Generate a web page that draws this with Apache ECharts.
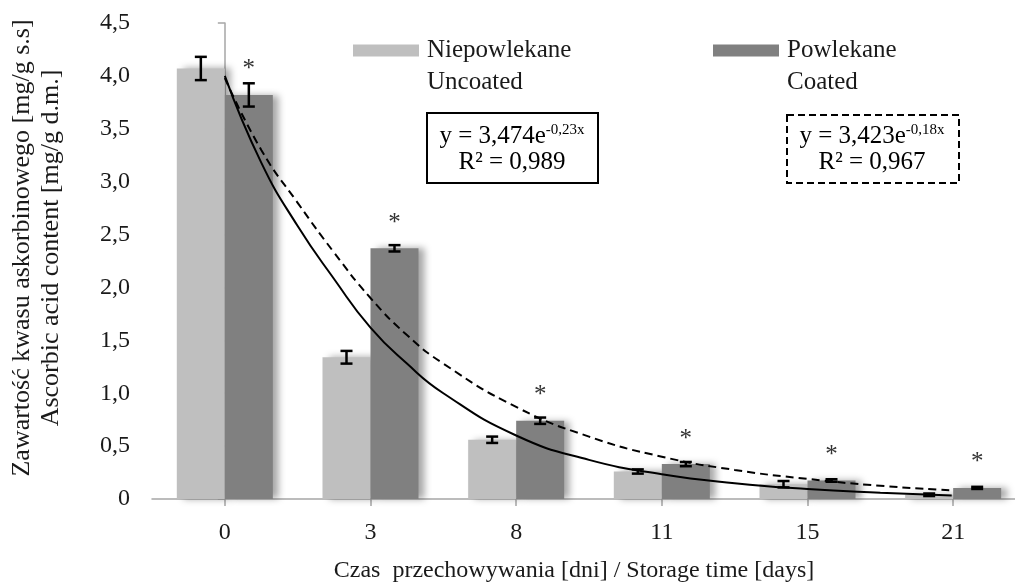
<!DOCTYPE html>
<html>
<head>
<meta charset="utf-8">
<script src="https://cdn.jsdelivr.net/npm/echarts@6/dist/echarts.min.js"></script>
<style>
html,body{margin:0;padding:0;background:#fff;overflow:hidden;}
#chart{width:1015px;height:584px;}
</style>
</head>
<body>
<div id="chart"></div>
<script>
// ---- data ----
var categories = ['0', '3', '8', '11', '15', '21'];
var uncoated = [4.07, 1.34, 0.56, 0.26, 0.14, 0.04];
var uncoatedErr = [0.11, 0.06, 0.03, 0.02, 0.03, 0.012];
var coated = [3.82, 2.37, 0.74, 0.33, 0.175, 0.105];
var coatedErr = [0.11, 0.03, 0.03, 0.02, 0.012, 0.01];
var yTicks = [0, 0.5, 1, 1.5, 2, 2.5, 3, 3.5, 4, 4.5];

// trend curves, positions in category-index units
var uncoatedTrendX = [0, 0.25, 0.5, 0.75, 1.0, 1.25, 1.5, 2.0, 2.5, 3.0, 3.5, 4.0, 4.5, 4.99];
var uncoatedTrendY = [4.00, 3.18, 2.58, 2.08, 1.62, 1.28, 1.00, 0.60, 0.37, 0.235, 0.15, 0.095, 0.06, 0.034];
var coatedTrendX = [0, 0.25, 0.5, 0.75, 1.0, 1.25, 1.5, 2.0, 2.5, 3.0, 3.5, 4.0, 4.5, 4.98];
var coatedTrendY = [3.98, 3.30, 2.80, 2.33, 1.90, 1.55, 1.28, 0.87, 0.59, 0.40, 0.275, 0.19, 0.125, 0.083];

var legendNames = ['Niepowlekane', 'Powlekane'];
var legendSub = ['Uncoated', 'Coated'];
var eq1 = ['y = 3,474e', '-0,23x', 'R² = 0,989'];
var eq2 = ['y = 3,423e', '-0,18x', 'R² = 0,967'];
var xName = 'Czas  przechowywania [dni] / Storage time [days]';
var yName = 'Zawartość kwasu askorbinowego [mg/g s.s]\nAscorbic acid content [mg/g d.m.]';

var FONT = '"Liberation Serif", "Times New Roman", serif';
var AXC = '#A6A6A6';
var TXT = '#1a1a1a';

function zip(xs, ys) { return xs.map(function (x, i) { return [x, ys[i]]; }); }
function errData(vals, errs) { return vals.map(function (v, i) { return [i, v, errs[i]]; }); }

function errRender(offset, star) {
  return function (params, api) {
    var i = api.value(0), v = api.value(1), e = api.value(2);
    var pTop = api.coord([i, v + e]);
    var pBot = api.coord([i, v - e]);
    var pBar = api.coord([i, v]);
    var x = pTop[0] + offset;
    var cap = 6;
    var st = {stroke: '#000', lineWidth: 2.5};
    var children = [
      {type: 'line', shape: {x1: x, y1: pTop[1], x2: x, y2: pBot[1]}, style: st},
      {type: 'line', shape: {x1: x - cap, y1: pTop[1], x2: x + cap, y2: pTop[1]}, style: st},
      {type: 'line', shape: {x1: x - cap, y1: pBot[1], x2: x + cap, y2: pBot[1]}, style: st}
    ];
    if (star) {
      children.push({type: 'text', style: {text: '*', x: x, y: pBar[1] - 25, align: 'center', verticalAlign: 'middle',
        fontSize: 25, fontFamily: FONT, fill: '#333'}});
    }
    return {type: 'group', children: children};
  };
}

var chart = echarts.init(document.getElementById('chart'), null, {renderer: 'canvas'});

var legendCommon = {
  top: 38, itemWidth: 66, itemHeight: 12, icon: 'rect', padding: 0,
  itemStyle: {shadowBlur: 0, shadowColor: 'transparent', shadowOffsetX: 0},
  textStyle: {fontFamily: FONT, fontSize: 25, color: TXT, padding: [0, 0, 0, 3]},
  selectedMode: false
};

var richEq = {
  n: {fontFamily: FONT, fontSize: 25, lineHeight: 26, fill: '#000'},
  s: {fontFamily: FONT, fontSize: 15, lineHeight: 26, verticalAlign: 'top', fill: '#000'}
};

var option = {
  backgroundColor: '#fff',
  animation: false,
  grid: {left: 152, top: 23, width: 874, height: 476, containLabel: false, outerBoundsMode: 'none'},
  legend: [
    Object.assign({}, legendCommon, {left: 353, data: [legendNames[0]]}),
    Object.assign({}, legendCommon, {left: 713, data: [legendNames[1]]})
  ],
  xAxis: [
    {
      type: 'category', data: categories, boundaryGap: true,
      axisLine: {show: true, lineStyle: {color: AXC, width: 1.5}},
      axisTick: {show: true, alignWithLabel: true, length: 7, lineStyle: {color: AXC, width: 1.5}},
      axisLabel: {fontFamily: FONT, fontSize: 24, color: TXT, margin: 22},
      splitLine: {show: false},
      name: xName, nameLocation: 'middle', nameGap: 60,
      nameTextStyle: {fontFamily: FONT, fontSize: 24, color: TXT, lineHeight: 24, padding: [0, 30, 0, 0]}
    },
    {type: 'value', min: -0.5, max: 5.5, show: false}
  ],
  yAxis: {
    type: 'value', min: yTicks[0], max: yTicks[yTicks.length - 1], interval: 0.5,
    axisLine: {show: true, lineStyle: {color: AXC, width: 1.5}},
    axisTick: {show: true, length: 7, lineStyle: {color: AXC, width: 1.5}},
    splitLine: {show: false},
    axisLabel: {fontFamily: FONT, fontSize: 24, color: TXT, margin: 22,
      formatter: function (v) { return v === 0 ? '0' : v.toFixed(1).replace('.', ','); }},
    name: yName, nameLocation: 'middle', nameGap: 86,
    nameTextStyle: {fontFamily: FONT, fontSize: 26, color: TXT, lineHeight: 29, padding: [0, 0, 0, 26]}
  },
  series: [
    {
      name: legendNames[0], type: 'bar', data: uncoated, barWidth: 48, barGap: '0%',
      itemStyle: {color: '#BFBFBF', shadowBlur: 7, shadowOffsetX: 6, shadowColor: 'rgba(0,0,0,0.35)'},
      z: 2
    },
    {
      name: legendNames[1], type: 'bar', data: coated, barWidth: 48, barGap: '0%',
      itemStyle: {color: '#808080', shadowBlur: 7, shadowOffsetX: 6, shadowColor: 'rgba(0,0,0,0.35)'},
      z: 2
    },
    {
      name: 'trendUncoated', type: 'line', xAxisIndex: 1, data: zip(uncoatedTrendX, uncoatedTrendY),
      smooth: 0.5, symbol: 'none', lineStyle: {color: '#000', width: 2}, z: 5, silent: true
    },
    {
      name: 'trendCoated', type: 'line', xAxisIndex: 1, data: zip(coatedTrendX, coatedTrendY),
      smooth: 0.5, symbol: 'none', lineStyle: {color: '#000', width: 2, type: [8, 5]}, z: 5, silent: true
    },
    {
      name: 'errUncoated', type: 'custom', xAxisIndex: 0, data: errData(uncoated, uncoatedErr),
      renderItem: errRender(-24, false), encode: {x: 0, y: 1}, z: 6, silent: true
    },
    {
      name: 'errCoated', type: 'custom', xAxisIndex: 0, data: errData(coated, coatedErr),
      renderItem: errRender(24, true), encode: {x: 0, y: 1}, z: 6, silent: true
    }
  ],
  graphic: [
    {type: 'text', x: 427, y: 82, z: 11, style: {text: legendSub[0], fontFamily: FONT, fontSize: 25, fill: TXT, verticalAlign: 'middle'}},
    {type: 'text', x: 787, y: 82, z: 11, style: {text: legendSub[1], fontFamily: FONT, fontSize: 25, fill: TXT, verticalAlign: 'middle'}},
    {type: 'rect', shape: {x: 427, y: 113, width: 171, height: 70}, style: {fill: '#fff', stroke: '#000', lineWidth: 2}, z: 10},
    {type: 'text', x: 512, y: 149, z: 11, style: {
      text: '{n|' + eq1[0] + '}{s|' + eq1[1] + '}\n{n|' + eq1[2] + '}', align: 'center', verticalAlign: 'middle', rich: richEq
    }},
    {type: 'rect', shape: {x: 787, y: 115, width: 172, height: 68}, style: {fill: '#fff', stroke: '#000', lineWidth: 2, lineDash: [7, 4]}, z: 10},
    {type: 'text', x: 872, y: 149, z: 11, style: {
      text: '{n|' + eq2[0] + '}{s|' + eq2[1] + '}\n{n|' + eq2[2] + '}', align: 'center', verticalAlign: 'middle', rich: richEq
    }}
  ]
};
chart.setOption(option);
</script>
</body>
</html>
